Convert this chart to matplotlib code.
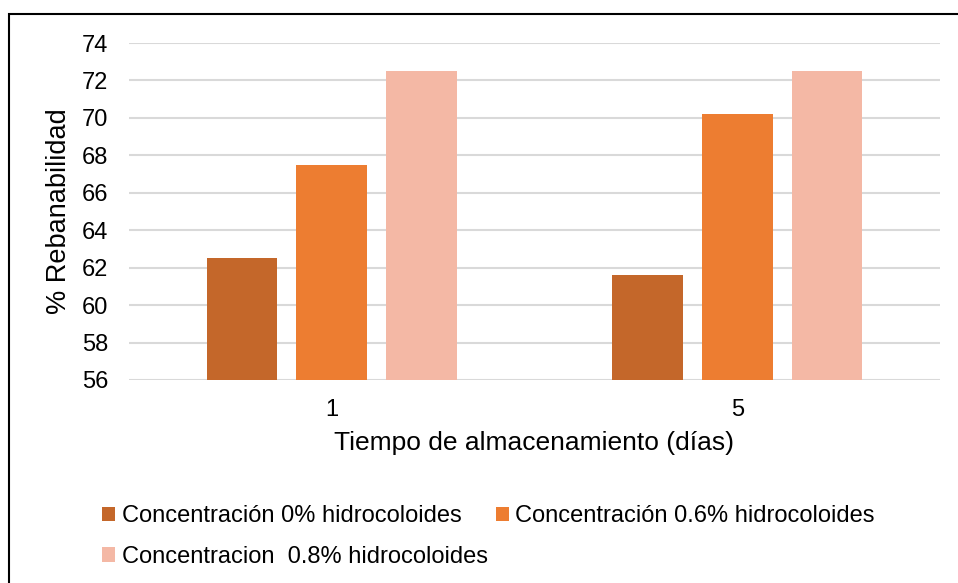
import matplotlib
matplotlib.use("Agg")
import matplotlib.pyplot as plt
from matplotlib.patches import Rectangle
import numpy as np

plt.rcParams['font.family'] = ['Liberation Sans', 'DejaVu Sans']

# Storage time categories (days)
categories = ["1", "5"]
# % sliceability per hydrocolloid concentration
series_names = [
    "Concentración 0% hidrocoloides",
    "Concentración 0.6% hidrocoloides",
    "Concentracion  0.8% hidrocoloides",
]
conc_0 = [62.5, 61.6]
conc_06 = [67.5, 70.2]
conc_08 = [72.5, 72.5]
y_ticks = [56, 58, 60, 62, 64, 66, 68, 70, 72, 74]

colors = ["#C4672A", "#ED7D31", "#F4B8A5"]

W, H = 958, 583
fig = plt.figure(figsize=(W / 100, H / 100), dpi=100)

# outer chart frame
fig.patches.append(Rectangle((9 / W, -0.1), 1.2, (1 - 14 / H) + 0.1,
                             transform=fig.transFigure, fill=False,
                             edgecolor="black", linewidth=1.5))

ax = fig.add_axes([129 / W, 1 - 380 / H, (940 - 129) / W, (380 - 43) / H])

x = np.arange(len(categories))
width = 0.174
step = 0.221
handles = []
for i, (vals, name, c) in enumerate(zip([conc_0, conc_06, conc_08], series_names, colors)):
    h = ax.bar(x + (i - 1) * step, vals, width, bottom=0, color=c, label=name, zorder=3)
    handles.append(h)

ax.set_ylim(56, 74)
ax.set_xlim(-0.5, 1.5)
ax.set_yticks(y_ticks)
ax.set_xticks(x)
ax.set_xticklabels(categories)
ax.yaxis.grid(True, color="#D9D9D9", linewidth=1.5, zorder=0)
ax.set_axisbelow(True)
for s in ax.spines.values():
    s.set_visible(False)
ax.tick_params(axis="both", length=0, labelsize=17, colors="black")
ax.tick_params(axis="y", pad=15)
ax.tick_params(axis="x", pad=14)

ax.set_ylabel("% Rebanabilidad", fontsize=19.5, labelpad=7)
ax.set_xlabel("Tiempo de almacenamiento (días)", fontsize=19, labelpad=7)

leg = fig.legend([handles[0], handles[2], handles[1]],
                 [series_names[0], series_names[2], series_names[1]],
                 ncol=2, loc="upper left", bbox_to_anchor=(102 / W, 1 - 505 / H),
                 frameon=False, fontsize=17, handlelength=0.55, handleheight=0.55,
                 handletextpad=0.28, columnspacing=0.35, labelspacing=0.8,
                 borderpad=0, borderaxespad=0)

fig.savefig("out.png", dpi=100)
